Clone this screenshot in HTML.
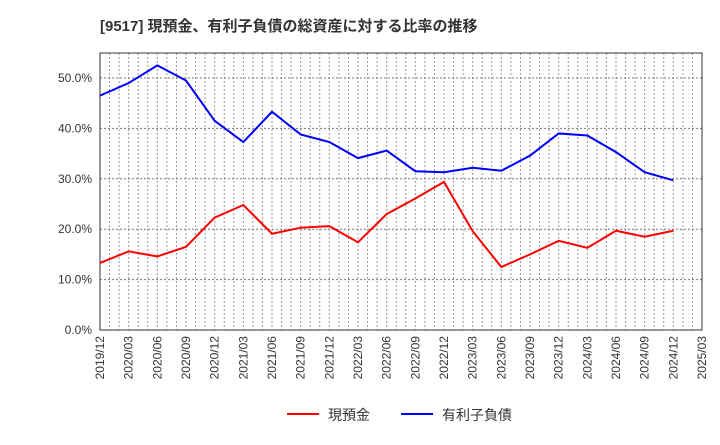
<!DOCTYPE html>
<html><head><meta charset="utf-8"><style>
body{margin:0;background:#fff;font-family:"Liberation Sans","Noto Sans CJK JP",sans-serif;}
</style></head><body>
<svg id="c" width="720" height="440" xmlns="http://www.w3.org/2000/svg">
<text x="100" y="31" font-size="15" font-weight="bold" fill="#333" font-family="Liberation Sans, Noto Sans CJK JP, sans-serif">[9517]  現預金、有利子負債の総資産に対する比率の推移</text>
<g id="grid"></g><g id="axes"></g><g id="series"></g>
<g>
<line x1="287" y1="414" x2="319" y2="414" stroke="#f00" stroke-width="2"/>
<text x="328" y="420" font-size="14" fill="#333">現預金</text>
<line x1="401" y1="414" x2="433" y2="414" stroke="#00f" stroke-width="2"/>
<text x="442" y="420" font-size="14" fill="#333">有利子負債</text>
</g>
</svg>
<script>
const categories=["2019/12","2020/03","2020/06","2020/09","2020/12","2021/03","2021/06","2021/09","2021/12","2022/03","2022/06","2022/09","2022/12","2023/03","2023/06","2023/09","2023/12","2024/03","2024/06","2024/09","2024/12","2025/03"];
const cash=[13.3,15.6,14.6,16.5,22.3,24.8,19.1,20.3,20.6,17.4,23,26.1,29.4,19.6,12.5,15,17.7,16.3,19.7,18.5,19.7];
const debt=[46.5,49,52.5,49.5,41.5,37.3,43.3,38.8,37.3,34.1,35.6,31.5,31.3,32.2,31.6,34.6,39,38.6,35.3,31.3,29.7];
const yTicks=[0,10,20,30,40,50];
const X0=100,X1=702,Y0=330,YT=53;
const xs=i=>X0+(X1-X0)*i/(categories.length-1);
const ys=v=>Y0-v*(330-78)/50;
const NS="http://www.w3.org/2000/svg";
function mk(t,a,p){const e=document.createElementNS(NS,t);for(const k in a)e.setAttribute(k,a[k]);document.getElementById(p).appendChild(e);return e;}
const months=(categories.length-1)*3;
for(let m=1;m<months;m++){const x=X0+(X1-X0)*m/months;const l=mk('line',{x1:x,x2:x,y1:YT,y2:Y0,stroke:'#999','stroke-dasharray':'2,2','stroke-width':1},'grid');}
yTicks.forEach(v=>{const y=ys(v);if(v>0){const l=mk('line',{x1:X0,x2:X1,y1:y,y2:y,stroke:'#777','stroke-dasharray':'2,2'},'grid');}
const t=mk('text',{x:X0-8,y:y+4,'text-anchor':'end','font-size':12,fill:'#333'},'axes');t.textContent=v.toFixed(1)+'%';});
const r=mk('rect',{x:X0,y:YT,width:X1-X0,height:Y0-YT,fill:'none',stroke:'#333'},'axes');
categories.forEach((c,i)=>{const x=xs(i);const t=mk('text',{transform:`translate(${x+4},${Y0+6}) rotate(-90)`,'text-anchor':'end','font-size':12,fill:'#333'},'axes');t.textContent=c;});
function line(d,col,name){const p=mk('polyline',{points:d.map((v,i)=>xs(i)+','+ys(v)).join(' '),fill:'none',stroke:col,'stroke-width':2},'series');}
line(cash,'#f00','cash-line');line(debt,'#00f','debt-line');
</script>
</body></html>
